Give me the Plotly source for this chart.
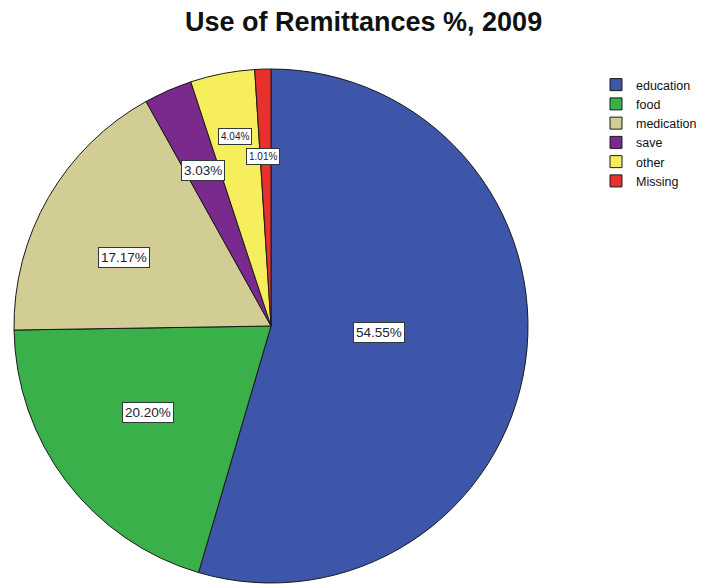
import math
import plotly.graph_objects as go

# Uses of remittances, 2009 (percent of respondents)
categories = ["education", "food", "medication", "save", "other", "Missing"]
shares = [54.55, 20.20, 17.17, 3.03, 4.04, 1.01]
slice_colors = ["#3D56AA", "#39B04A", "#D1CD95", "#7A2A8C", "#F6EE5C", "#E8302F"]

W, H = 701, 586
CX, CY, R = 271, 326, 257  # pie centre and radius in pixels

fig = go.Figure(go.Pie(
    labels=categories,
    values=shares,
    sort=False,
    direction="clockwise",
    rotation=0,
    marker=dict(colors=slice_colors, line=dict(color="#1a1a1a", width=1)),
    textinfo="none",
    hoverinfo="label+percent",
    domain=dict(x=[(CX - R) / W, (CX + R) / W],
                y=[1 - (CY + R) / H, 1 - (CY - R) / H]),
))

# Boxed value labels, placed near each slice's mid-angle
label_radius = [0.42, 0.585, 0.63, 0.66, 0.75, 0.66]
label_nudge_deg = [-5, 2, -5, 0, 0, -1]
label_size = [13.5, 13.5, 13.5, 13.5, 10, 10]
total = sum(shares)
cum = 0.0
annotations = []
for val, rf, dd, fs in zip(shares, label_radius, label_nudge_deg, label_size):
    mid = (cum + val / 2) / total * 2 * math.pi + math.radians(dd)
    cum += val
    px = CX + rf * R * math.sin(mid)
    py = CY - rf * R * math.cos(mid)
    annotations.append(dict(
        x=px / W, y=1 - py / H, xref="paper", yref="paper",
        xanchor="center", yanchor="middle",
        text=f"{val:.2f}%", showarrow=False,
        font=dict(family="Liberation Sans, Arial, sans-serif", size=fs, color="#1c2230"),
        bgcolor="white", bordercolor="#2f3a36", borderwidth=1, borderpad=2,
    ))

annotations.append(dict(
    x=363 / W, y=1 - 22 / H, xref="paper", yref="paper",
    xanchor="center", yanchor="middle",
    text="<b>Use of Remittances %, 2009</b>", showarrow=False,
    font=dict(family="Liberation Sans, Arial, sans-serif", size=27, color="#111"),
))

fig.update_layout(
    width=W, height=H,
    margin=dict(l=0, r=0, t=0, b=0, autoexpand=False),
    paper_bgcolor="white", plot_bgcolor="white",
    annotations=annotations,
    showlegend=True,
    legend=dict(
        x=596 / W, y=1 - 70 / H, xanchor="left", yanchor="top",
        font=dict(family="Liberation Sans, Arial, sans-serif", size=12.5, color="#111"),
        itemwidth=30, bgcolor="rgba(0,0,0,0)",
    ),
)

fig.write_html("out.html")
